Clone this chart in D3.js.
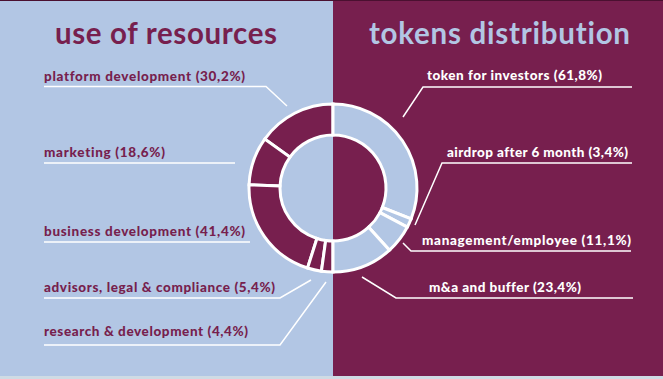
<!DOCTYPE html>
<html><head><meta charset="utf-8">
<script src="https://cdn.jsdelivr.net/npm/d3@7"></script>
<style>html,body{margin:0;padding:0;background:#cfdbe4;}svg{display:block;} text{font-variant-ligatures:none;font-feature-settings:"liga" 0;}</style>
</head><body>
<svg id="c" width="663" height="379"></svg>
<script>
const titles = ["use of resources", "tokens distribution"];
const resourceLabels = ["platform development", "marketing", "business development", "advisors, legal & compliance", "research & development"];
const resourceValues = [30.2, 18.6, 41.4, 5.4, 4.4];
const tokenLabels = ["token for investors", "airdrop after 6 month", "management/employee", "m&a and buffer"];
const tokenValues = [61.8, 3.4, 11.1, 23.4];

const BLUE = "#b2c6e4", MAROON = "#771f4e";
const W = 663, H = 379, cx = 333, cy = 188, R = 84, r0 = 53;
const fmt = v => "(" + String(v.toFixed(1)).replace(".", ",") + "%)";
const svg = d3.select("#c");
const font = "Lato, 'Open Sans', sans-serif";

svg.append("rect").attr("x",0).attr("y",0).attr("width",cx).attr("height",376).attr("fill",BLUE);
svg.append("rect").attr("x",cx).attr("y",0).attr("width",W-cx).attr("height",376).attr("fill",MAROON);
svg.append("rect").attr("x",0).attr("y",0).attr("width",W).attr("height",1).attr("fill","#4a1030");

svg.append("text").attr("x",55).attr("y",44).attr("textLength",222).attr("lengthAdjust","spacing")
  .attr("font-family",font).attr("font-weight",700).attr("font-size",29.5).attr("fill",MAROON).text(titles[0]);
svg.append("text").attr("x",369).attr("y",44).attr("textLength",261).attr("lengthAdjust","spacing")
  .attr("font-family",font).attr("font-weight",700).attr("font-size",29.5).attr("fill",BLUE).text(titles[1]);

const arc = d3.arc().innerRadius(r0).outerRadius(R);
const g = svg.append("g").attr("transform",`translate(${cx},${cy})`);
const pieL = d3.pie().sort(null).startAngle(0).endAngle(-Math.PI);
const pieR = d3.pie().sort(null).startAngle(0).endAngle(Math.PI);
g.selectAll("path.l").data(pieL(resourceValues)).join("path").attr("class","l")
  .attr("d",arc).attr("fill",MAROON).attr("stroke","#fff").attr("stroke-width",3).attr("stroke-linejoin","miter");
g.selectAll("path.r").data(pieR(tokenValues)).join("path").attr("class","r")
  .attr("d",arc).attr("fill",BLUE).attr("stroke","#fff").attr("stroke-width",3).attr("stroke-linejoin","miter");

// labels: text position, text width and leader polyline
const leftPos = [
  {tx:44, ty:81, w:201, pts:[[44,86.5],[266,86.5],[287,106]]},
  {tx:44, ty:157, w:121, pts:[[44,163],[235,163]]},
  {tx:44, ty:236, w:201, pts:[[44,242],[250,242]]},
  {tx:44, ty:292, w:231, pts:[[44,298],[280,298],[311,280]]},
  {tx:44, ty:336, w:204, pts:[[44,345],[280,345],[326,282]]}
];
const rightPos = [
  {tx:427, ty:80, w:175, pts:[[632,87],[423,87],[403,117]]},
  {tx:447, ty:157, w:181, pts:[[632,163],[442,163],[415,225]]},
  {tx:422, ty:245, w:209, pts:[[631,251],[411,251],[403,243]]},
  {tx:429, ty:292, w:152, pts:[[633,298],[396,298],[362,277]]}
];
const line = d3.line();
resourceLabels.forEach((lab,i)=>{
  const p = leftPos[i];
  svg.append("text").attr("x",p.tx).attr("y",p.ty).attr("font-family",font).attr("font-weight",900)
    .attr("textLength",p.w).attr("lengthAdjust","spacing")
    .attr("font-size",13.5).attr("fill",MAROON).text(lab + " " + fmt(resourceValues[i]));
  svg.append("path").attr("d",line(p.pts)).attr("fill","none").attr("stroke","#fff").attr("stroke-width",1.5);
});
tokenLabels.forEach((lab,i)=>{
  const p = rightPos[i];
  svg.append("text").attr("x",p.tx).attr("y",p.ty).attr("font-family",font).attr("font-weight",900)
    .attr("textLength",p.w).attr("lengthAdjust","spacing")
    .attr("font-size",13.5).attr("fill","#fff").text(lab + " " + fmt(tokenValues[i]));
  svg.append("path").attr("d",line(p.pts)).attr("fill","none").attr("stroke","#fff").attr("stroke-width",1.5);
});
</script>
</body></html>
